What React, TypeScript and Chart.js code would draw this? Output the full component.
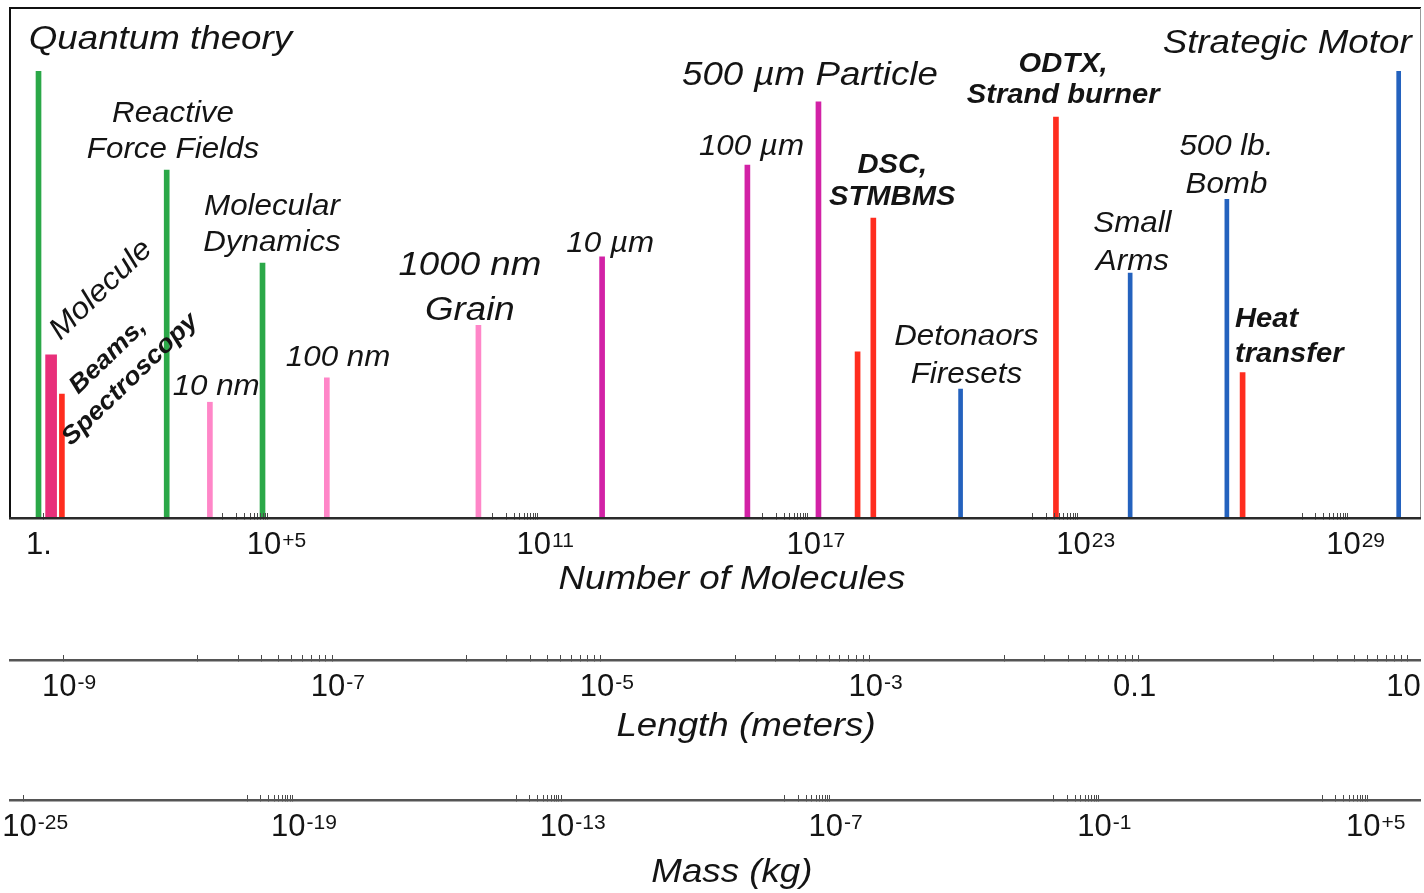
import React, { useEffect, useRef } from 'react';
import { Chart, registerables } from 'chart.js';

Chart.register(...registerables);

// ---------- data: position = log10(number of molecules), height in arbitrary units (0–100)
const greenLogN = [-0.1, 2.75, 4.88];
const greenHeight = [87.6, 68.2, 50.0];
const deepPinkLogN = [0.18];
const deepPinkHeight = [32.0];
const redLogN = [0.42, 18.11, 18.46, 22.52, 26.67];
const redHeight = [24.3, 32.6, 58.8, 78.6, 28.5];
const lightPinkLogN = [3.71, 6.31, 9.68];
const lightPinkHeight = [22.7, 27.5, 37.8];
const magentaLogN = [12.43, 15.66, 17.24];
const magentaHeight = [51.2, 69.2, 81.6];
const blueLogN = [20.4, 24.17, 26.32, 30.14];
const blueHeight = [25.3, 48.0, 62.5, 87.6];

// ---------- axes (log10 ranges)
const moleculeRange = [-0.734, 30.614];
const lengthRange = [-9.396, 1.093];
const massRange = [-25.275, 6.177];

const moleculeTickExp = [0, 5, 11, 17, 23, 29];
const moleculeTickBase = ['1.', '10', '10', '10', '10', '10'];
const moleculeTickSup = ['', '+5', '11', '17', '23', '29'];
const moleculeMinorDecades = [4, 10, 16, 22, 28];

const lengthTickExp = [-9, -7, -5, -3, -1, 1];
const lengthTickBase = ['10', '10', '10', '10', '0.1', '10'];
const lengthTickSup = ['-9', '-7', '-5', '-3', '', ''];
const lengthMinorDecades = [-8, -6, -4, -2, 0];

const massTickExp = [-25, -19, -13, -7, -1, 5];
const massTickBase = ['10', '10', '10', '10', '10', '10'];
const massTickSup = ['-25', '-19', '-13', '-7', '-1', '+5'];
const massMinorDecades = [-20, -14, -8, -2, 4];

const axisTitles = ['Number of Molecules', 'Length (meters)', 'Mass (kg)'];

// ---------- annotations (anchored in data coordinates)
type Note = {
  lines: string[];
  logN: number;
  value: number;
  size: number;
  bold?: boolean;
  gap?: number;
  align?: CanvasTextAlign;
  rotate?: number;
};
const notes: Note[] = [
  { lines: ['Quantum theory'], logN: 2.61, value: 92.0, size: 34 },
  { lines: ['Reactive', 'Force Fields'], logN: 2.89, value: 77.6, size: 29, gap: 36 },
  { lines: ['Molecular', 'Dynamics'], logN: 5.09, value: 59.4, size: 29, gap: 36 },
  { lines: ['10 nm'], logN: 3.85, value: 24.1, size: 29 },
  { lines: ['100 nm'], logN: 6.56, value: 29.8, size: 29 },
  { lines: ['1000 nm', 'Grain'], logN: 9.49, value: 47.6, size: 34, gap: 45 },
  { lines: ['10 µm'], logN: 12.61, value: 52.2, size: 29 },
  { lines: ['500 µm Particle'], logN: 17.05, value: 84.9, size: 34 },
  { lines: ['100 µm'], logN: 15.75, value: 71.2, size: 29 },
  { lines: ['DSC,', 'STMBMS'], logN: 18.88, value: 67.6, size: 27, bold: true, gap: 32 },
  { lines: ['ODTX,', 'Strand burner'], logN: 22.68, value: 87.5, size: 27, bold: true, gap: 31 },
  { lines: ['Strategic Motor'], logN: 27.66, value: 91.2, size: 34 },
  { lines: ['500 lb.', 'Bomb'], logN: 26.31, value: 71.2, size: 29, gap: 38 },
  { lines: ['Small', 'Arms'], logN: 24.22, value: 56.1, size: 29, gap: 38 },
  { lines: ['Detonaors', 'Firesets'], logN: 20.53, value: 33.9, size: 29, gap: 38 },
  { lines: ['Heat', 'transfer'], logN: 26.5, value: 37.5, size: 27, bold: true, gap: 35, align: 'left' },
  { lines: ['Molecule'], logN: 1.29, value: 44.7, size: 30, rotate: -44 },
  { lines: ['Beams,', 'Spectroscopy'], logN: 1.69, value: 29.4, size: 25, bold: true, gap: 32, rotate: -44 },
];

const FONT = "'Liberation Sans', Arial, Helvetica, sans-serif";
const TEXT = '#141414';
const STRETCH = 1.08;

const points = (logs: number[], heights: number[]) =>
  logs.map((e, i) => ({ x: Math.pow(10, e), y: heights[i] }));

const buildTicks = (majors: number[], decades: number[]) => {
  const vals: number[] = majors.map((e) => Math.pow(10, e));
  decades.forEach((d) => {
    for (let k = 1; k <= 9; k++) vals.push(k * Math.pow(10, d));
  });
  return Array.from(new Set(vals))
    .sort((a, b) => a - b)
    .map((v) => ({ value: v }));
};

const drawTickLabel = (
  ctx: CanvasRenderingContext2D,
  x: number,
  y: number,
  base: string,
  sup: string
) => {
  ctx.textAlign = 'left';
  ctx.textBaseline = 'alphabetic';
  ctx.font = `31px ${FONT}`;
  const wb = ctx.measureText(base).width;
  const left = x - wb / 2 - 4;
  ctx.fillText(base, left, y);
  if (sup) {
    ctx.font = `21px ${FONT}`;
    ctx.fillText(sup, left + wb + 1, y - 7.5);
  }
};

const labelPlugin = {
  id: 'scaleLabels',
  afterDraw(chart: any) {
    const ctx: CanvasRenderingContext2D = chart.ctx;
    const xs = chart.scales.x;
    const ys = chart.scales.y;
    const area = chart.chartArea;
    ctx.save();
    ctx.fillStyle = TEXT;

    // annotations
    notes.forEach((n) => {
      const px = xs.getPixelForValue(Math.pow(10, n.logN));
      const py = ys.getPixelForValue(n.value);
      ctx.save();
      ctx.font = `italic ${n.bold ? 'bold ' : ''}${n.size}px ${FONT}`;
      ctx.translate(px, py);
      if (n.rotate) ctx.rotate((n.rotate * Math.PI) / 180);
      ctx.scale(STRETCH, 1);
      ctx.textAlign = n.align || 'center';
      ctx.textBaseline = n.rotate ? 'middle' : 'alphabetic';
      const gap = n.gap || 0;
      n.lines.forEach((line, i) => {
        const dy = n.rotate ? (i - (n.lines.length - 1) / 2) * gap : i * gap;
        ctx.fillText(line, 0, dy);
      });
      ctx.restore();
    });

    // tick labels
    const sets: [string, number[], string[], string[]][] = [
      ['x', moleculeTickExp, moleculeTickBase, moleculeTickSup],
      ['xLen', lengthTickExp, lengthTickBase, lengthTickSup],
      ['xMass', massTickExp, massTickBase, massTickSup],
    ];
    sets.forEach(([id, exps, bases, sups]) => {
      const s = chart.scales[id];
      exps.forEach((e, i) => {
        drawTickLabel(ctx, s.getPixelForValue(Math.pow(10, e)), s.top + 36, bases[i], sups[i]);
      });
    });

    // axis titles
    const titleCfg: [string, number, number][] = [
      ['x', 0.512, 71],
      ['xLen', 0.522, 76],
      ['xMass', 0.512, 82],
    ];
    titleCfg.forEach(([id, frac, dy], i) => {
      const s = chart.scales[id];
      ctx.save();
      ctx.font = `italic 34px ${FONT}`;
      ctx.textAlign = 'center';
      ctx.textBaseline = 'alphabetic';
      ctx.translate(area.left + frac * (area.right - area.left), s.top + dy);
      ctx.scale(STRETCH, 1);
      ctx.fillText(axisTitles[i], 0, 0);
      ctx.restore();
    });
    ctx.restore();
  },
};

const tickGrid = {
  display: true,
  drawOnChartArea: false,
  offset: false,
  tickLength: -5,
  color: '#4a4a4a',
  lineWidth: 1,
  z: 1,
};

export default function App() {
  const ref = useRef<HTMLCanvasElement | null>(null);

  useEffect(() => {
    if (!ref.current) return;
    const bar = (data: { x: number; y: number }[], color: string, w: number) => ({
      type: 'bar' as const,
      data,
      backgroundColor: color,
      borderWidth: 0,
      barThickness: w,
      grouped: false,
      xAxisID: 'x',
      yAxisID: 'y',
    });
    const chart = new Chart(ref.current, {
      type: 'bar',
      data: {
        datasets: [
          bar(points(greenLogN, greenHeight), '#2ba848', 5),
          bar(points(deepPinkLogN, deepPinkHeight), '#e8307a', 11),
          bar(points(redLogN, redHeight), '#ff2d1f', 5),
          bar(points(lightPinkLogN, lightPinkHeight), '#ff86c8', 5),
          bar(points(magentaLogN, magentaHeight), '#d222a6', 5),
          bar(points(blueLogN, blueHeight), '#2462be', 4),
        ] as any,
      },
      options: {
        animation: false,
        responsive: false,
        events: [],
        layout: { padding: { left: 10, top: 8, right: 4, bottom: 0 } },
        plugins: { legend: { display: false }, tooltip: { enabled: false } },
        scales: {
          x: {
            type: 'logarithmic',
            position: 'bottom',
            weight: 0,
            min: Math.pow(10, moleculeRange[0]),
            max: Math.pow(10, moleculeRange[1]),
            offset: false,
            afterBuildTicks: (s: any) => {
              s.ticks = buildTicks(moleculeTickExp, moleculeMinorDecades);
            },
            afterFit: (s: any) => {
              s.height = 142;
            },
            ticks: { display: false },
            grid: tickGrid,
            border: { display: true, color: '#2a2a2a', width: 2.5, z: 1 },
          },
          xLen: {
            type: 'logarithmic',
            position: 'bottom',
            weight: 1,
            min: Math.pow(10, lengthRange[0]),
            max: Math.pow(10, lengthRange[1]),
            offset: false,
            afterBuildTicks: (s: any) => {
              s.ticks = buildTicks(lengthTickExp, lengthMinorDecades);
            },
            afterFit: (s: any) => {
              s.height = 140;
            },
            ticks: { display: false },
            grid: tickGrid,
            border: { display: true, color: '#555555', width: 2.5, z: 1 },
          },
          xMass: {
            type: 'logarithmic',
            position: 'bottom',
            weight: 2,
            min: Math.pow(10, massRange[0]),
            max: Math.pow(10, massRange[1]),
            offset: false,
            afterBuildTicks: (s: any) => {
              s.ticks = buildTicks(massTickExp, massMinorDecades);
            },
            afterFit: (s: any) => {
              s.height = 93;
            },
            ticks: { display: false },
            grid: tickGrid,
            border: { display: true, color: '#555555', width: 2.5, z: 1 },
          },
          xTop: {
            type: 'linear',
            position: 'top',
            offset: false,
            ticks: { display: false },
            grid: { display: false, offset: false },
            border: { display: true, color: '#111111', width: 2 },
            afterFit: (s: any) => {
              s.height = 0;
            },
          },
          y: {
            type: 'linear',
            position: 'left',
            min: 0,
            max: 100,
            ticks: { display: false },
            grid: { display: false },
            border: { display: true, color: '#111111', width: 2 },
            afterFit: (s: any) => {
              s.width = 0;
            },
          },
          yRight: {
            type: 'linear',
            position: 'right',
            ticks: { display: false },
            grid: { display: false },
            border: { display: true, color: '#9a9a9a', width: 1 },
            afterFit: (s: any) => {
              s.width = 0;
            },
          },
        } as any,
      },
      plugins: [labelPlugin],
    });
    return () => chart.destroy();
  }, []);

  return (
    <div style={{ position: 'absolute', left: 0, top: 0, width: 1424, height: 893, background: '#fff' }}>
      <canvas ref={ref} width={1424} height={893} style={{ width: 1424, height: 893, display: 'block' }} />
    </div>
  );
}
